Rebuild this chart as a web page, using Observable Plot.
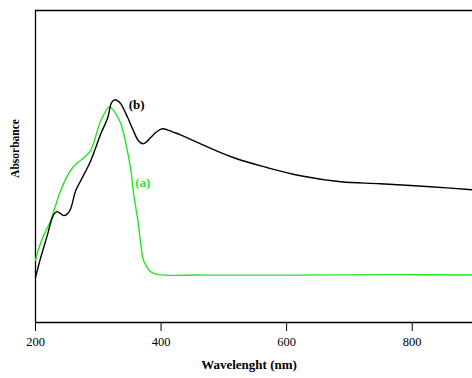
<!DOCTYPE html>
<html>
<head>
<meta charset="utf-8">
<script src="https://cdn.jsdelivr.net/npm/d3@7"></script>
<script src="https://cdn.jsdelivr.net/npm/@observablehq/plot@0.6"></script>
<style>
  html, body { margin: 0; padding: 0; background: #fff; }
</style>
</head>
<body>
<div id="chart"></div>
<script>
// Wavelength (nm) and absorbance (arbitrary units)
const aWave = [200, 204, 213, 224, 240, 256, 267, 277, 288, 304, 318, 328, 336, 344, 352, 356, 363, 368, 372, 379, 383, 395, 463, 622, 781, 896];
const aAbs  = [0.248, 0.288, 0.348, 0.408, 0.528, 0.610, 0.640, 0.660, 0.690, 0.808, 0.864, 0.836, 0.796, 0.716, 0.608, 0.520, 0.408, 0.308, 0.248, 0.216, 0.204, 0.192, 0.190, 0.190, 0.192, 0.190];

const bWave = [200, 204, 208, 213, 220, 224, 229, 234, 240, 245, 251, 256, 264, 272, 288, 304, 315, 321, 326, 331, 336, 347, 356, 364, 371, 377, 383, 393, 402, 410, 418, 431, 442, 463, 516, 570, 622, 686, 749, 829, 896];
const bAbs  = [0.180, 0.220, 0.258, 0.300, 0.360, 0.398, 0.432, 0.444, 0.436, 0.428, 0.436, 0.456, 0.528, 0.568, 0.648, 0.756, 0.820, 0.880, 0.892, 0.888, 0.876, 0.820, 0.768, 0.728, 0.716, 0.724, 0.740, 0.764, 0.776, 0.772, 0.764, 0.752, 0.740, 0.716, 0.660, 0.620, 0.588, 0.564, 0.556, 0.544, 0.532];

const xTicks = [200, 400, 600, 800];
const xDomain = [200, 896];
const yDomain = [0, 1.25];

const seriesLabels = ["(a)", "(b)"];
const labelWave = [371, 361];
const labelAbs = [0.56, 0.872];
const labelColors = ["#22e622", "#000000"];

const aData = aWave.map((w, i) => ({w, v: aAbs[i]}));
const bData = bWave.map((w, i) => ({w, v: bAbs[i]}));
const labels = seriesLabels.map((t, i) => ({t, w: labelWave[i], v: labelAbs[i], c: labelColors[i]}));

const font = "'Liberation Serif', 'Times New Roman', serif";

const chart = Plot.plot({
  width: 472,
  height: 378,
  marginLeft: 35,
  marginRight: 0,
  marginTop: 10,
  marginBottom: 56,
  style: {fontFamily: font, fontSize: "12px", background: "#fff", color: "#000"},
  x: {domain: xDomain, ticks: xTicks},
  y: {domain: yDomain},
  marks: [
    Plot.axisX({ticks: xTicks, tickSize: 9, tickPadding: 6, fontSize: 12.5, label: null, tickFormat: d => String(d)}),
    Plot.axisY({ticks: [], label: null}),
    Plot.ruleY([yDomain[0]], {stroke: "#000", strokeWidth: 1.3}),
    Plot.ruleY([yDomain[1]], {stroke: "#000", strokeWidth: 1.3}),
    Plot.ruleX([xDomain[0]], {stroke: "#000", strokeWidth: 1.3}),
    Plot.line(aData, {x: "w", y: "v", stroke: "#22e622", strokeWidth: 1.4, curve: "catmull-rom"}),
    Plot.line(bData, {x: "w", y: "v", stroke: "#000", strokeWidth: 1.4, curve: "catmull-rom"}),
    Plot.text(labels, {x: "w", y: "v", text: "t", fill: "c", fontWeight: "bold", fontSize: 13}),
    Plot.text(["Wavelenght (nm)"], {frameAnchor: "bottom", textAnchor: "middle", dy: 46, dx: -5, fontWeight: "bold", fontSize: 13}),
    Plot.text(["Absorbance"], {frameAnchor: "left", textAnchor: "middle", rotate: -90, dx: -20, dy: -18, fontWeight: "bold", fontSize: 11.5})
  ]
});
document.getElementById("chart").appendChild(chart);
</script>
</body>
</html>
